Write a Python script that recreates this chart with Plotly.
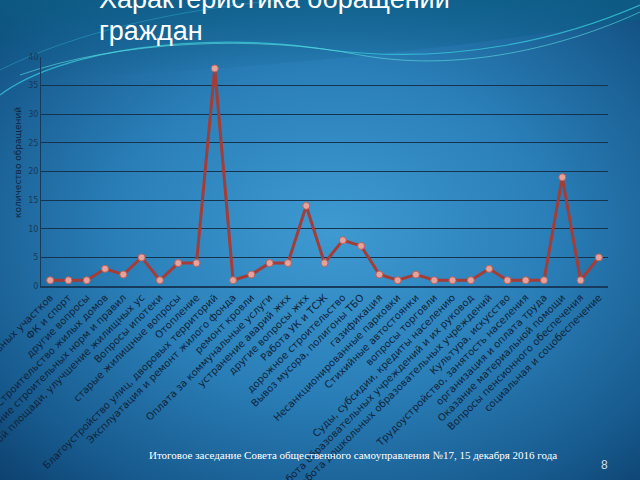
import base64
import plotly.graph_objects as go

categories = [
    "Предоставление земельных участков",
    "ФК и спорт",
    "другие вопросы",
    "Строительство жилых домов",
    "Нарушение строительных норм и правил",
    "Предоставление жилой площади, улучшение жилищных ус",
    "Вопросы ипотеки",
    "старые жилищные вопросы",
    "Отопление",
    "Благоустройство улиц, дворовых территорий",
    "Эксплуатация и ремонт жилого фонда",
    "ремонт кровли",
    "Оплата за коммунальные услуги",
    "устранение аварий жкх",
    "другие вопросы жкх",
    "Работа УК и ТСЖ",
    "дорожное строительство",
    "Вывоз мусора, полигоны ТБО",
    "газификация",
    "Несанкционированные парковки",
    "Стихийные автостоянки",
    "вопросы торговли",
    "Суды, субсидии, кредиты населению",
    "Работа образовательных учреждений и их руковод",
    "Работа дошкольных образовательных учреждений",
    "Культура, искусство",
    "Трудоустройство, занятость населения",
    "организация и оплата труда",
    "Оказание материальной помощи",
    "Вопросы пенсионного обеспечения",
    "социальная и соцобеспечение",
]
values = [1, 1, 1, 3, 2, 5, 1, 4, 4, 38, 1, 2, 4, 4, 14, 4,
          8, 7, 2, 1, 2, 1, 1, 1, 3, 1, 1, 1, 19, 1, 5]
y_ticks = [0, 5, 10, 15, 20, 25, 30, 35, 40]

title_line1 = "Характеристика обращений"
title_line2 = "граждан"
y_title = "количество обращений"
footer = "Итоговое заседание Совета общественного самоуправления №17, 15 декабря 2016 года"
page_no = "8"

# background gradient as an SVG image
bg_svg = """<svg xmlns='http://www.w3.org/2000/svg' width='640' height='480' viewBox='0 0 640 480'>
<defs>
<radialGradient id='g' cx='0.52' cy='0.48' r='0.75'>
<stop offset='0' stop-color='#3f9ad2'/>
<stop offset='0.45' stop-color='#2a7fb8'/>
<stop offset='0.8' stop-color='#175a8e'/>
<stop offset='1' stop-color='#0c3f6c'/>
</radialGradient>
<linearGradient id='t' x1='0' y1='0' x2='0' y2='1'>
<stop offset='0' stop-color='#0b5f86' stop-opacity='0.7'/>
<stop offset='1' stop-color='#0b5f86' stop-opacity='0'/>
</linearGradient>
</defs>
<rect width='640' height='480' fill='url(#g)'/>
<path d='M0 0 L640 0 L640 20 C 500 40 300 70 0 80 Z' fill='url(#t)'/>
<path d='M0 95 C 60 50 200 30 330 50 C 450 65 560 40 640 5' stroke='#37c6d8' stroke-width='1.2' fill='none' opacity='0.8'/>
<path d='M20 75 C 120 40 260 35 360 55 C 470 75 580 40 640 12' stroke='#5fe0e0' stroke-width='1' fill='none' opacity='0.6'/>
<path d='M0 70 C 80 30 180 10 280 0' stroke='#2aa8c8' stroke-width='1' fill='none' opacity='0.5'/>
</svg>"""
bg_src = "data:image/svg+xml;base64," + base64.b64encode(bg_svg.encode("utf-8")).decode("ascii")

fig = go.Figure()
fig.add_trace(go.Scatter(
    x=list(range(len(categories))),
    y=values,
    mode="lines+markers",
    line=dict(color="#a43c38", width=3),
    marker=dict(color="#e6a29c", size=7, line=dict(color="#b5625c", width=1)),
    hoverinfo="skip",
))

L, R, T, B = 41, 32, 57, 194

fig.update_layout(
    width=640, height=480,
    margin=dict(l=L, r=R, t=T, b=B, autoexpand=False),
    paper_bgcolor="#1a6aa0",
    plot_bgcolor="rgba(0,0,0,0)",
    showlegend=False,
    images=[dict(source=bg_src, xref="paper", yref="paper",
                 x=-L / 567, y=1 + T / 229, sizex=640 / 567, sizey=480 / 229,
                 xanchor="left", yanchor="top", sizing="stretch", layer="below")],
    xaxis=dict(
        range=[-0.5, len(categories) - 0.5],
        tickmode="array",
        tickvals=list(range(len(categories))),
        ticktext=categories,
        tickangle=-45,
        ticklabeloverflow="allow",
        tickfont=dict(family="DejaVu Sans", size=10, color="#10243a"),
        showgrid=False,
        showline=True, linecolor="#163a5c", linewidth=1.5,
        ticks="", automargin=False, zeroline=False,
    ),
    yaxis=dict(
        range=[0, 40],
        tickmode="array",
        tickvals=y_ticks,
        tickfont=dict(family="DejaVu Sans", size=8, color="#173a5a"),
        showgrid=True, gridcolor="#15334f", gridwidth=1.3,
        showline=True, linecolor="#163a5c", linewidth=1,
        ticks="", automargin=False, zeroline=False,
    ),
    annotations=[
        dict(text=title_line1, xref="paper", yref="paper",
             x=(97 - L) / 567, y=(286 + 1) / 229, xanchor="left", yanchor="middle",
             showarrow=False, font=dict(family="Liberation Sans", size=27, color="#ffffff")),
        dict(text=title_line2, xref="paper", yref="paper",
             x=(97 - L) / 567, y=(286 - 31) / 229, xanchor="left", yanchor="middle",
             showarrow=False, font=dict(family="Liberation Sans", size=27, color="#ffffff")),
        dict(text=y_title, xref="paper", yref="paper",
             x=(18 - L) / 567, y=(286 - 163) / 229, xanchor="center", yanchor="middle",
             textangle=-90, showarrow=False,
             font=dict(family="DejaVu Sans", size=9, color="#10263e")),
        dict(text=footer, xref="paper", yref="paper",
             x=(353 - L) / 567, y=(286 - 455) / 229, xanchor="center", yanchor="middle",
             showarrow=False, font=dict(family="Liberation Serif", size=11, color="#ffffff")),
        dict(text=page_no, xref="paper", yref="paper",
             x=(604 - L) / 567, y=(286 - 465) / 229, xanchor="center", yanchor="middle",
             showarrow=False, font=dict(family="Liberation Sans", size=12, color="#d0dcea")),
    ],
)

fig.write_html("out.html")
